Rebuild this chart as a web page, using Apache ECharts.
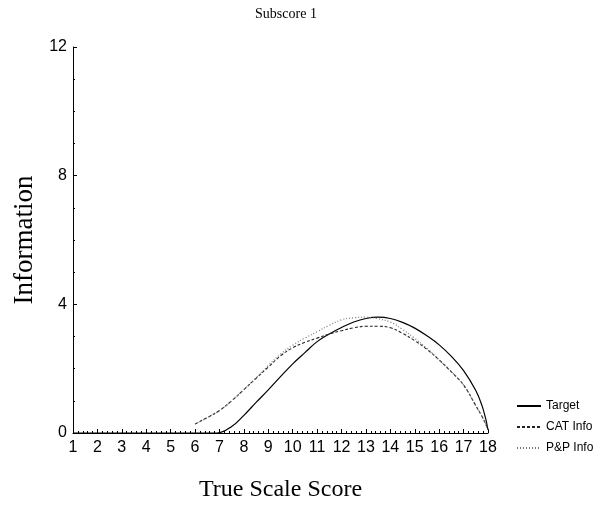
<!DOCTYPE html>
<html>
<head>
<meta charset="utf-8">
<script src="https://cdn.jsdelivr.net/npm/echarts@6/dist/echarts.min.js"></script>
<style>html,body{margin:0;padding:0;background:#fff}#c{width:614px;height:514px}</style>
</head>
<body>
<div id="c"></div>
<script>
var titleText = 'Subscore 1';
var xName = 'True Scale Score';
var yName = 'Information';
var seriesNames = ['Target', 'CAT Info', 'P&P Info'];

var targetX = [1, 2, 3, 4, 5, 6, 6.9, 7.5, 8, 8.5, 9, 9.5, 10, 10.5, 11, 11.5, 12, 12.5, 13, 13.5, 14, 14.5, 15, 15.5, 16, 16.5, 17, 17.5, 17.75, 17.9, 18];
var targetY = [0, 0, 0, 0, 0, 0, 0, 0.2, 0.55, 0.95, 1.34, 1.75, 2.15, 2.5, 2.84, 3.08, 3.28, 3.45, 3.56, 3.6, 3.56, 3.44, 3.26, 3.02, 2.74, 2.38, 1.94, 1.32, 0.86, 0.46, 0.1];

var catX = [6, 6.5, 7, 7.5, 8, 8.5, 9, 9.5, 10, 10.5, 11, 11.5, 12, 12.5, 13, 13.5, 14, 14.5, 15, 15.5, 16, 16.5, 17, 17.5, 17.8, 18];
var catY = [0.28, 0.48, 0.7, 1.0, 1.35, 1.7, 2.05, 2.4, 2.65, 2.82, 2.95, 3.08, 3.18, 3.27, 3.32, 3.32, 3.27, 3.1, 2.87, 2.6, 2.27, 1.9, 1.49, 0.85, 0.45, 0.1];

var ppX = [6, 6.5, 7, 7.5, 8, 8.5, 9, 9.5, 10, 10.5, 11, 11.5, 12, 12.5, 13, 13.5, 14, 14.5, 15, 15.5, 16, 16.5, 17, 17.5, 17.8, 18];
var ppY = [0.28, 0.48, 0.7, 1.0, 1.35, 1.72, 2.1, 2.45, 2.73, 2.95, 3.15, 3.35, 3.52, 3.58, 3.6, 3.55, 3.45, 3.22, 2.94, 2.63, 2.27, 1.9, 1.49, 0.85, 0.45, 0.1];

function pairs(xs, ys) { return xs.map(function (x, i) { return [x, ys[i]]; }); }

var chart = echarts.init(document.getElementById('c'), null, {renderer: 'canvas'});
var sans = '"Liberation Sans", Arial, sans-serif';
var serif = '"Liberation Serif", "Times New Roman", serif';
chart.setOption({
  animation: false,
  backgroundColor: '#fff',
  title: {
    text: titleText, left: 281, top: 2, textAlign: 'center',
    textStyle: {fontFamily: serif, fontSize: 14, fontWeight: 'normal', color: '#000'}
  },
  legend: {
    orient: 'vertical', left: 511, top: 395, itemWidth: 24, itemHeight: 10, itemGap: 9,
    textStyle: {fontFamily: sans, fontSize: 12, color: '#000'},
    itemStyle: {color: 'transparent', borderWidth: 0, opacity: 0},
    data: seriesNames
  },
  grid: {left: 73, right: 126, top: 47, bottom: 81},
  xAxis: {
    type: 'value', min: 1, max: 18, interval: 1,
    name: xName, nameLocation: 'middle', nameGap: 45,
    nameTextStyle: {fontFamily: serif, fontSize: 24, color: '#000'},
    axisLine: {show: true, lineStyle: {color: '#000', width: 1}},
    axisTick: {show: true, inside: true, length: 4, lineStyle: {color: '#000'}},
    minorTick: {show: true, splitNumber: 5, length: 2, lineStyle: {color: '#000'}},
    axisLabel: {fontFamily: sans, fontSize: 16, color: '#000', margin: 7},
    splitLine: {show: false}
  },
  yAxis: {
    type: 'value', min: 0, max: 12, interval: 4,
    name: yName, nameLocation: 'middle', nameGap: 34,
    nameTextStyle: {fontFamily: serif, fontSize: 27, color: '#000'},
    axisLine: {show: true, lineStyle: {color: '#000', width: 1}},
    axisTick: {show: true, inside: true, length: 4, lineStyle: {color: '#000'}},
    minorTick: {show: true, splitNumber: 4, length: 2, lineStyle: {color: '#000'}},
    axisLabel: {fontFamily: sans, fontSize: 16, color: '#000', margin: 6},
    splitLine: {show: false}
  },
  series: [
    {name: seriesNames[0], type: 'line', smooth: 0.4, symbol: 'none', data: pairs(targetX, targetY),
     lineStyle: {color: '#000', width: 1.2, type: 'solid'}, itemStyle: {color: '#000'}},
    {name: seriesNames[1], type: 'line', smooth: 0.4, symbol: 'none', data: pairs(catX, catY),
     lineStyle: {color: '#222', width: 1.1, type: [3, 2]}, itemStyle: {color: '#222'}},
    {name: seriesNames[2], type: 'line', smooth: 0.4, symbol: 'none', data: pairs(ppX, ppY),
     lineStyle: {color: '#777', width: 1.2, type: [1, 2]}, itemStyle: {color: '#777'}}
  ]
});
</script>
</body>
</html>
